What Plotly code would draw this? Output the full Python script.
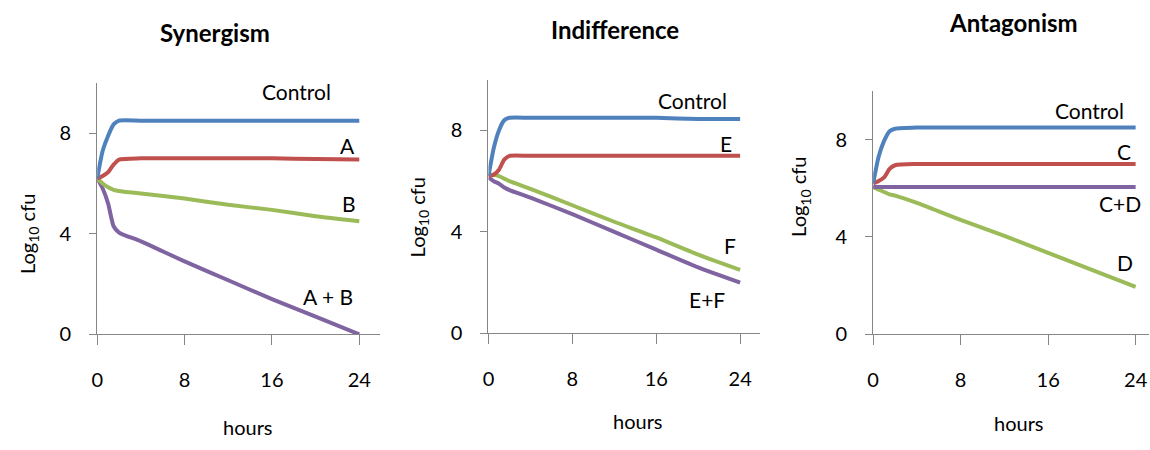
import plotly.graph_objects as go

W, H = 1150, 450

hours = [0, 0.5, 1, 1.5, 2, 4, 8, 12, 16, 20, 24]

# Synergism
syn_control = [6.2, 7.3, 7.9, 8.35, 8.5, 8.5, 8.5, 8.5, 8.5, 8.5, 8.5]
syn_a = [6.2, 6.3, 6.45, 6.75, 6.95, 7.0, 7.0, 7.0, 7.0, 6.97, 6.95]
syn_b = [6.2, 6.0, 5.85, 5.75, 5.7, 5.6, 5.4, 5.15, 4.95, 4.7, 4.5]
syn_ab = [6.2, 5.8, 5.2, 4.3, 4.05, 3.7, 2.9, 2.15, 1.4, 0.7, 0.0]

# Indifference
ind_control = [6.2, 7.3, 8.0, 8.4, 8.5, 8.5, 8.5, 8.5, 8.5, 8.45, 8.45]
ind_e = [6.2, 6.25, 6.45, 6.85, 7.0, 7.0, 7.0, 7.0, 7.0, 7.0, 7.0]
ind_f = [6.25, 6.25, 6.2, 6.1, 6.0, 5.7, 5.05, 4.4, 3.78, 3.1, 2.5]
ind_ef = [6.15, 6.0, 5.9, 5.75, 5.65, 5.35, 4.7, 4.0, 3.3, 2.6, 2.0]

# Antagonism
ant_control = [6.2, 7.3, 7.95, 8.35, 8.45, 8.5, 8.5, 8.5, 8.5, 8.5, 8.5]
ant_c = [6.2, 6.3, 6.45, 6.8, 6.95, 7.0, 7.0, 7.0, 7.0, 7.0, 7.0]
ant_cd = [6.05, 6.05, 6.05, 6.05, 6.05, 6.05, 6.05, 6.05, 6.05, 6.05, 6.05]
ant_d = [6.05, 5.95, 5.85, 5.75, 5.7, 5.4, 4.7, 4.05, 3.35, 2.65, 1.95]

titles = ["Synergism", "Indifference", "Antagonism"]
x_ticks = [0, 8, 16, 24]
y_ticks = [0, 4, 8]

BLUE, RED, GREEN, PURPLE = "#4F81BD", "#C0504D", "#9BBB59", "#8064A2"
FONT = "Lato"
AX = "#868686"

panels = [
    ([syn_ab, syn_b, syn_a, syn_control], ["A + B", "B", "A", "Control"]),
    ([ind_ef, ind_f, ind_e, ind_control], ["E+F", "F", "E", "Control"]),
    ([ant_d, ant_cd, ant_c, ant_control], ["D", "C+D", "C", "Control"]),
]
colors_by_panel = [
    [PURPLE, GREEN, RED, BLUE],
    [PURPLE, GREEN, RED, BLUE],
    [GREEN, PURPLE, RED, BLUE],
]

# plot areas in pixels: (left, right, top, bottom)
boxes = [(91.7, 376, 85, 342.7), (485, 758, 81.7, 341.7), (871.7, 1149.3, 93.3, 342.7)]
xmax = [25.9, 25.9, 25.25]


def px(x, y):
    return x / W, 1 - y / H


fig = go.Figure()
for i, ((series, names), cols) in enumerate(zip(panels, colors_by_panel)):
    sfx = "" if i == 0 else str(i + 1)
    for s, n, c in zip(series, names, cols):
        fig.add_trace(go.Scatter(x=hours, y=s, name=n, mode="lines",
                                 line=dict(color=c, width=4, shape="spline", smoothing=0.6),
                                 xaxis="x" + sfx, yaxis="y" + sfx, showlegend=False))
    l, r, t, b = boxes[i]
    fig.layout["xaxis" + sfx] = dict(
        domain=[l / W, r / W], anchor="y" + sfx, range=[0, xmax[i]],
        tickvals=x_ticks, ticks="outside", ticklen=10, tickcolor=AX,
        showline=True, linecolor=AX, linewidth=1, showgrid=False, zeroline=False,
        tickfont=dict(family=FONT, size=20, color="#000"), ticklabelstandoff=18)
    fig.layout["yaxis" + sfx] = dict(
        domain=[1 - b / H, 1 - t / H], anchor="x" + sfx, range=[0, 10],
        tickvals=y_ticks, ticks="outside", ticklen=7, tickcolor=AX,
        showline=True, linecolor=AX, linewidth=1, showgrid=False, zeroline=False,
        tickfont=dict(family=FONT, size=20, color="#000"), ticklabelstandoff=14)

annots = []


def add_text(txt, x, y, size, angle=0):
    ax_, ay_ = px(x, y)
    annots.append(dict(text=txt, x=ax_, y=ay_, xref="paper", yref="paper", showarrow=False,
                       xanchor="center", yanchor="middle", textangle=angle,
                       font=dict(family=FONT, size=size, color="#000")))


for txt, (x, y) in zip(titles, [(210, 33), (612.5, 30), (1013, 23)]):
    add_text("<b>%s</b>" % txt, x, y, 24)

labels = [
    ("Control", 291.7, 94.3), ("A", 343.3, 149.3), ("B", 345, 208.3), ("A + B", 323.3, 304),
    ("Control", 690, 103.3), ("E", 723.3, 147.3), ("F", 727.7, 251.7), ("E+F", 705, 307.3),
    ("Control", 1089.3, 113.3), ("C", 1124, 155), ("C+D", 1120, 209), ("D", 1125, 269.3),
]
for txt, x, y in labels:
    add_text(txt, x, y, 21)

for x, y in [(243, 438), (635, 431.7), (1018, 433.3)]:
    add_text("hours", x, y, 20)
for x, y in [(22, 240), (415, 223), (798.3, 201.7)]:
    add_text("Log<sub>10</sub> cfu", x, y, 20, -90)

fig.update_layout(margin=dict(l=0, r=0, t=0, b=0),
                  paper_bgcolor="white", plot_bgcolor="white", annotations=annots)

fig.write_html(
    "out.html",
    config={"displayModeBar": False, "responsive": True},
    default_width="100vw",
    default_height="100vh",
    post_script=(
        "document.body.style.margin='0';"
        "document.body.style.overflow='hidden';"
        "window.dispatchEvent(new Event('resize'));"
    ),
)
